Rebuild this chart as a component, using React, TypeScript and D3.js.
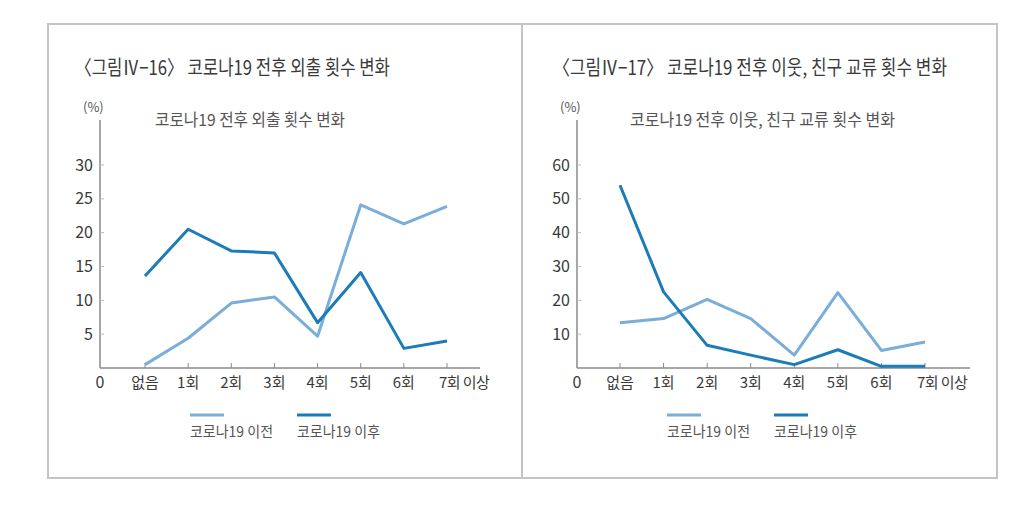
import React from "react";
import * as d3 from "d3";

const categories = ["없음", "1회", "2회", "3회", "4회", "5회", "6회", "7회 이상"];
const seriesNames = ["코로나19 이전", "코로나19 이후"];

const outingBefore = [0.5, 4.4, 9.6, 10.5, 4.7, 24.1, 21.3, 23.9];
const outingAfter = [13.6, 20.5, 17.3, 17.0, 6.7, 14.1, 2.9, 4.0];
const outingTicks = [5, 10, 15, 20, 25, 30];

const socialBefore = [13.4, 14.6, 20.3, 14.6, 3.8, 22.3, 5.2, 7.7];
const socialAfter = [54.0, 22.5, 6.7, 3.8, 1.0, 5.4, 0.5, 0.5];
const socialTicks = [10, 20, 30, 40, 50, 60];

const LIGHT = "#7aaed9";
const DARK = "#1b7cb7";
const AXIS = "#8a8a8a";
const TEXT = "#3a3a3a";
const FONT = "'Liberation Sans Narrow', 'Noto Sans CJK KR', sans-serif";
const KFONT = "'Noto Sans CJK KR', sans-serif";

type PanelProps = {
  title: string;
  titleLen: number;
  subtitle: string;
  subLen: number;
  before: number[];
  after: number[];
  ticks: number[];
  yMax: number;
  axisX: number;
  axisEnd: number;
  firstX: number;
  lastX: number;
  titleX: number;
  pctX: number;
  subX: number;
  legendX: number;
};

function Panel(p: PanelProps) {
  const y0 = 368;
  const yTop = 165;
  const x = d3.scaleLinear().domain([0, categories.length - 1]).range([p.firstX, p.lastX]);
  const y = d3.scaleLinear().domain([0, p.yMax]).range([y0, yTop]);
  const line = d3
    .line<number>()
    .x((_, i) => x(i))
    .y((d) => y(d));
  return (
    <g>
      <text x={p.titleX} y={75} fontFamily={KFONT} fontSize={20} fill={TEXT} textLength={p.titleLen} lengthAdjust="spacingAndGlyphs">
        {p.title}
      </text>
      <text x={p.pctX} y={112} fontFamily={FONT} fontSize={13} fill="#555">
        (%)
      </text>
      <text x={p.subX} y={126} fontFamily={KFONT} fontSize={16.5} fill="#555" textLength={p.subLen} lengthAdjust="spacingAndGlyphs">
        {p.subtitle}
      </text>
      <line x1={p.axisX} x2={p.axisX} y1={120} y2={y0} stroke={AXIS} strokeWidth={1.5} />
      <line x1={p.axisX} x2={p.axisEnd} y1={y0} y2={y0} stroke={AXIS} strokeWidth={1.5} />
      {p.ticks.map((t) => (
        <g key={t}>
          <line x1={p.axisX} x2={p.axisX + 4} y1={y(t)} y2={y(t)} stroke="#bbb" strokeWidth={1} />
          <text x={p.axisX - 7} y={y(t) + 5.5} textAnchor="end" fontFamily={FONT} fontSize={16} fill={TEXT}>
            {t}
          </text>
        </g>
      ))}
      <text x={p.axisX} y={388} textAnchor="middle" fontFamily={FONT} fontSize={16} fill={TEXT}>
        0
      </text>
      {categories.map((c, i) => (
        <g key={c}>
          <line x1={x(i)} x2={x(i)} y1={y0} y2={y0 - 5} stroke={AXIS} strokeWidth={1} />
          {i < categories.length - 1 ? (
            <text x={x(i)} y={388} textAnchor="middle" fontFamily={FONT} fontSize={15} fill={TEXT}>
              {c}
            </text>
          ) : (
            <text x={x(i) - 8} y={388} textAnchor="start" fontFamily={FONT} fontSize={15} fill={TEXT} letterSpacing={-0.6}>
              {c}
            </text>
          )}
        </g>
      ))}
      <path d={line(p.before) || ""} fill="none" stroke={LIGHT} strokeWidth={3} strokeLinejoin="round" />
      <path d={line(p.after) || ""} fill="none" stroke={DARK} strokeWidth={3} strokeLinejoin="round" />
      {seriesNames.map((s, i) => {
        const lx = p.legendX + i * 107;
        return (
          <g key={s}>
            <line x1={lx} x2={lx + 34} y1={415} y2={415} stroke={i === 0 ? LIGHT : DARK} strokeWidth={3} />
            <text x={lx} y={437} fontFamily={KFONT} fontSize={15} fill="#555" textLength={83} lengthAdjust="spacingAndGlyphs">
              {s}
            </text>
          </g>
        );
      })}
    </g>
  );
}

export default function App() {
  return (
    <div style={{ position: "fixed", left: 0, top: 0 }}>
      <svg width={1024} height={509} style={{ display: "block", background: "#fff" }}>
        <rect x={48} y={24} width={949} height={454} fill="none" stroke="#c4c4c4" strokeWidth={2} />
        <line x1={522} x2={522} y1={24} y2={478} stroke="#c4c4c4" strokeWidth={2} />
        <Panel
          title="〈그림Ⅳ−16〉 코로나19 전후 외출 횟수 변화"
          titleLen={315}
          subtitle="코로나19 전후 외출 횟수 변화"
          subLen={190}
          before={outingBefore}
          after={outingAfter}
          ticks={outingTicks}
          yMax={30}
          axisX={100}
          axisEnd={480}
          firstX={145}
          lastX={447}
          titleX={75}
          pctX={83}
          subX={155}
          legendX={190}
        />
        <Panel
          title="〈그림Ⅳ−17〉 코로나19 전후 이웃, 친구 교류 횟수 변화"
          titleLen={394}
          subtitle="코로나19 전후 이웃, 친구 교류 횟수 변화"
          subLen={265}
          before={socialBefore}
          after={socialAfter}
          ticks={socialTicks}
          yMax={60}
          axisX={577}
          axisEnd={970}
          firstX={620}
          lastX={925}
          titleX={553}
          pctX={560}
          subX={630}
          legendX={667}
        />
      </svg>
    </div>
  );
}
